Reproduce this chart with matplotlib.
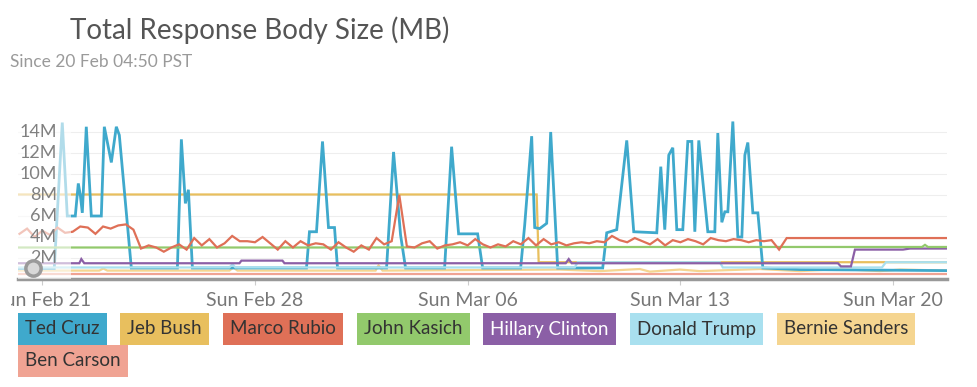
import matplotlib
matplotlib.use("Agg")
import matplotlib.pyplot as plt
import matplotlib.dates as mdates
from matplotlib.transforms import Bbox
import pandas as pd

# day offsets are counted from Sun 21 Feb 2016 00:00, sizes in MB
start = pd.Timestamp("2016-02-21")

cruz_days = [-0.823, 0.395, 0.659, 0.823, 1.087, 1.186, 1.252, 1.318, 1.449, 1.614,
             1.943, 2.042, 2.273, 2.437, 2.536, 2.931, 4.447, 4.578, 4.710, 4.809,
             4.941, 8.696, 8.794, 9.025, 9.223, 9.420, 9.618, 9.717, 11.331, 11.561,
             11.792, 11.956, 13.241, 13.472, 13.702, 14.328, 14.493, 15.744, 15.876, 16.107,
             16.206, 16.370, 16.601, 16.733, 16.963, 18.445, 18.577, 18.906, 19.236, 19.466,
             20.224, 20.356, 20.487, 20.619, 20.751, 20.883, 21.080, 21.245, 21.377, 21.476,
             21.607, 21.904, 22.134, 22.233, 22.365, 22.464, 22.563, 22.727, 22.892, 23.024,
             23.123, 23.221, 23.386, 23.551, 23.715, 24.934, 29.776]
cruz_mb = [1.0, 1.0, 14.9, 6.0, 6.0, 9.1, 8.0, 6.3, 14.5, 6.0,
           6.0, 14.5, 11.1, 14.5, 13.7, 1.05, 1.05, 13.3, 7.2, 8.5,
           1.05, 1.05, 4.5, 4.5, 13.1, 4.9, 4.9, 1.05, 1.05, 12.1,
           4.2, 1.05, 1.05, 12.6, 4.3, 4.3, 1.05, 1.05, 5.1, 13.6,
           4.9, 4.8, 5.3, 14.0, 1.05, 1.05, 4.4, 4.7, 13.2, 4.5,
           4.4, 10.7, 4.7, 11.8, 12.5, 4.7, 4.7, 13.1, 13.1, 4.5,
           13.2, 4.5, 4.5, 13.9, 5.4, 6.4, 6.4, 15.0, 4.0, 4.0,
           11.8, 13.0, 6.3, 6.3, 1.05, 0.9, 0.8]

bush_days = [-0.823, 16.271, 16.337, 29.776]
bush_mb = [8.05, 8.05, 1.6, 1.6]

# rubio sampled every 6 hours from 20 Feb 06:00
rubio_first = "2016-02-20 06:00"
rubio_mb = [4.3, 4.8, 4.0, 4.6, 4.2, 4.9, 4.4, 4.5, 5.0, 4.9,
            4.3, 5.0, 4.8, 5.1, 5.2, 4.7, 2.9, 3.2, 3.0, 2.6,
            3.0, 3.3, 2.8, 3.9, 3.2, 3.8, 3.0, 3.4, 4.1, 3.6,
            3.6, 3.5, 4.0, 3.4, 2.8, 3.6, 3.0, 3.6, 3.2, 3.4,
            3.3, 2.8, 3.5, 3.0, 2.6, 3.2, 2.8, 3.9, 3.3, 3.6,
            8.0, 3.1, 3.0, 3.4, 3.6, 2.9, 3.2, 3.3, 3.5, 3.2,
            3.8, 3.3, 3.0, 3.3, 3.1, 3.6, 3.3, 3.9, 3.2, 3.8,
            3.3, 3.5, 3.2, 3.4, 3.5, 3.4, 3.6, 3.5, 4.1, 3.7,
            3.5, 3.9, 3.6, 3.3, 3.8, 3.2, 3.7, 3.5, 3.8, 3.6,
            3.3, 3.9, 3.7, 3.6, 3.8, 3.7, 3.5, 3.7, 3.6, 3.7,
            2.8, 3.9, 3.9, 3.9, 3.9, 3.9, 3.9, 3.9, 3.9, 3.9,
            3.9, 3.9, 3.9, 3.9, 3.9, 3.9, 3.9, 3.9, 3.9, 3.9,
            3.9, 3.9, 3.9]

kasich_days = [-0.823, 10.0, 20.0, 28.953, 29.051, 29.150, 29.776]
kasich_mb = [3.0, 3.0, 3.05, 3.05, 3.25, 3.05, 3.05]

clinton_days = [-0.823, 0.955, 1.219, 1.285, 1.383, 6.489, 6.555, 7.905, 7.971, 17.227,
                17.326, 17.424, 26.186, 26.285, 26.614, 26.746, 28.327, 28.557, 29.776]
clinton_mb = [1.5, 1.5, 1.5, 1.9, 1.5, 1.5, 1.75, 1.75, 1.5, 1.5,
              1.9, 1.5, 1.5, 1.2, 1.2, 2.8, 2.8, 2.9, 2.9]

trump_days = [-0.823, 6.159, 6.258, 6.357, 17.523, 17.622, 22.299, 22.398, 27.635, 27.767, 29.776]
trump_mb = [1.1, 1.1, 1.4, 1.1, 1.1, 1.6, 1.6, 1.1, 1.1, 1.6, 1.6]

sanders_days = [-0.823, 1.877, 2.009, 2.141, 6.159, 6.291, 6.423, 10.968, 11.067, 11.199,
                17.029, 18.347, 19.664, 19.993, 20.982, 21.640, 23.617, 24.934, 26.252, 27.569,
                28.228, 29.776]
sanders_mb = [0.8, 0.8, 1.0, 0.8, 0.8, 1.1, 0.8, 0.8, 1.3, 0.8,
              0.9, 0.75, 0.95, 0.7, 0.9, 0.75, 0.95, 0.75, 0.95, 0.75,
              0.9, 0.8]

carson_days = [-0.823, 29.776]
carson_mb = [0.5, 0.5]

names = ["Ted Cruz", "Jeb Bush", "Marco Rubio", "John Kasich", "Hillary Clinton",
         "Donald Trump", "Bernie Sanders", "Ben Carson"]
colors = ["#3fa9cc", "#e8bf5e", "#df7057", "#92c96c", "#8b5fa6", "#a9e0ef", "#f5d590", "#f0a393"]
text_colors = ["#333333"] * 4 + ["#ffffff"] + ["#333333"] * 3

y_ticks = [2, 4, 6, 8, 10, 12, 14]


def to_time(days):
    return start + pd.to_timedelta(days, unit="D")


fig = plt.figure(figsize=(9.78, 3.87), dpi=100)
ax = fig.add_axes([18 / 978, (387 - 279) / 387, 929 / 978, 161.7 / 387])

# drawing order, bottom first
series = {
    "Ben Carson": (to_time(carson_days), carson_mb),
    "Bernie Sanders": (to_time(sanders_days), sanders_mb),
    "Jeb Bush": (to_time(bush_days), bush_mb),
    "Ted Cruz": (to_time(cruz_days), cruz_mb),
    "Donald Trump": (to_time(trump_days), trump_mb),
    "Hillary Clinton": (to_time(clinton_days), clinton_mb),
    "John Kasich": (to_time(kasich_days), kasich_mb),
    "Marco Rubio": (pd.date_range(rubio_first, periods=len(rubio_mb), freq="6h"), rubio_mb),
}
for name, (t, v) in series.items():
    c = colors[names.index(name)]
    lw = 2.0 if name == "Ted Cruz" else 1.6
    ax.plot(t, v, color=c, lw=lw, solid_joinstyle="miter", zorder=3)

x0 = pd.Timestamp("2016-02-20 04:50")
x1 = pd.Timestamp("2016-03-21 18:37")
ax.set_xlim(x0, x1)
ax.set_ylim(0, 15.4)

# faded part outside the selected range
ax.axvspan(x0, pd.Timestamp("2016-02-21 23:00"), color="white", alpha=0.6, lw=0, zorder=4)

for y in y_ticks:
    ax.axhline(y, color="#eeeeee", lw=0.8, zorder=1)
    ax.text(0.042, y, "%dM" % y, transform=ax.get_yaxis_transform(), ha="right", va="center",
            fontsize=13, color="#808080", family="Lato", zorder=6)
ax.set_yticks([])

# scroll handle
ax.plot([0.016], [1.05], marker="o", ms=11, mfc="#d8d8d8", mec="#9a9a9a", mew=2.5,
        transform=ax.get_yaxis_transform(), clip_on=False, zorder=7)

ax.xaxis.set_major_locator(mdates.WeekdayLocator(byweekday=mdates.SU))
ax.xaxis.set_major_formatter(mdates.DateFormatter("%a %b %d"))
ax.tick_params(axis="x", length=4, color="#cccccc", pad=5, labelsize=14, labelcolor="#777777")
for lbl in ax.get_xticklabels():
    lbl.set_family("Lato")

for s in ["top", "right", "left"]:
    ax.spines[s].set_visible(False)
ax.spines["bottom"].set_color("#999999")
ax.spines["bottom"].set_linewidth(2.5)

fig.text(70 / 978, 1 - 30 / 387, "Total Response Body Size (MB)", fontsize=20, color="#555555",
         family="Lato", weight="normal", va="center")
fig.text(10 / 978, 1 - 62 / 387, "Since 20 Feb 04:50 PST", fontsize=12.5, color="#9a9a9a",
         family="Lato", va="center")

# legend chips, wrapped onto a second row
fig.canvas.draw()
renderer = fig.canvas.get_renderer()
pad_px = 7
xpos, row = 18 + pad_px, 0
rows_y = [387 - 329, 387 - 361]
for name, c, tc in zip(names, colors, text_colors):
    t = fig.text(xpos / 978, rows_y[row] / 387, name, fontsize=13.5, color=tc, family="Lato",
                 va="center", bbox=dict(boxstyle="square,pad=0.38", fc=c, ec="none"))
    ext = t.get_window_extent(renderer)
    if ext.x1 + pad_px > 950 and row == 0:
        row = 1
        xpos = 18 + pad_px
        t.set_position((xpos / 978, rows_y[row] / 387))
        ext = t.get_window_extent(renderer)
    xpos = ext.x1 + 2 * pad_px + 14

fig.canvas.draw()
first = ax.get_xticklabels()[0]
first.set_clip_box(Bbox.from_extents(11, 0, 978, 387))
first.set_clip_on(True)

fig.savefig("out.png", dpi=100)
